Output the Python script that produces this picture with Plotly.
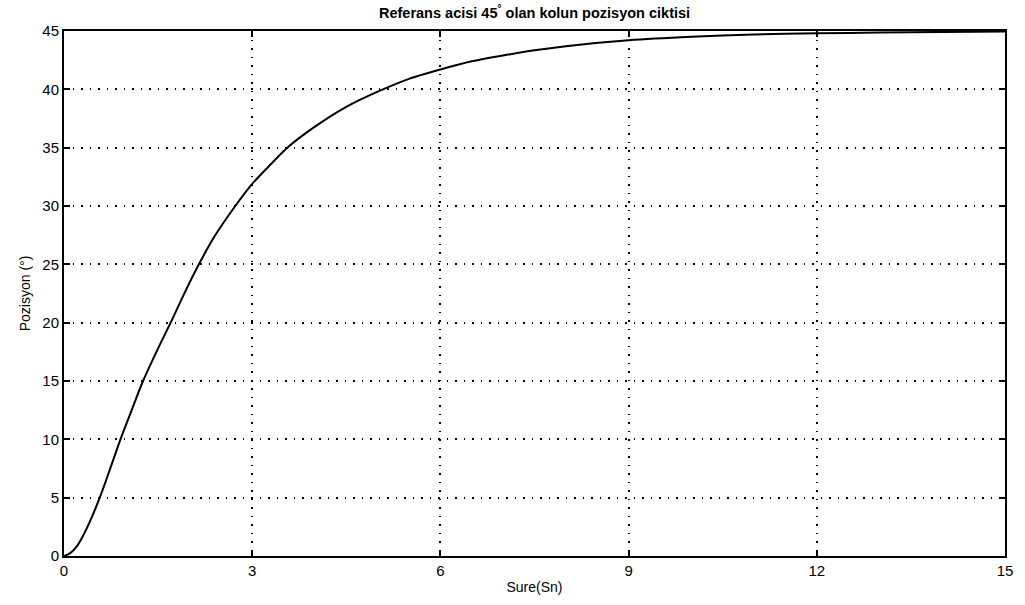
import plotly.graph_objects as go

time_s = [0, 0.1, 0.2, 0.3, 0.4, 0.57, 0.75, 0.9, 1.1, 1.26, 1.5, 1.7, 1.9, 2.15, 2.4, 2.73,
          3.0, 3.3, 3.56, 4.0, 4.5, 5.0, 5.5, 6.0, 6.5, 7.0, 7.5, 8.0, 9.0, 10.0, 11.0,
          12.0, 13.0, 14.0, 15.0]
position_deg = [0, 0.25, 0.8, 1.7, 2.8, 5.0, 7.7, 10.0, 12.8, 15.0, 17.8, 20.0, 22.3, 25.0, 27.4, 30.0,
                31.9, 33.6, 35.0, 36.8, 38.5, 39.8, 40.9, 41.7, 42.4, 42.9, 43.35, 43.7, 44.2, 44.5, 44.7,
                44.8, 44.87, 44.92, 44.95]

x_ticks = [0, 3, 6, 9, 12, 15]
y_ticks = [0, 5, 10, 15, 20, 25, 30, 35, 40, 45]

fig = go.Figure()
fig.add_trace(go.Scatter(x=time_s, y=position_deg, mode="lines",
                         line=dict(color="black", width=2, shape="spline", smoothing=0.8),
                         showlegend=False, hoverinfo="skip"))

axis_common = dict(showline=True, linecolor="black", linewidth=2, mirror="allticks",
                   ticks="inside", ticklen=6, tickwidth=1.5, tickcolor="black",
                   showgrid=True, gridcolor="black", gridwidth=1.5, griddash="1.5px,7px",
                   zeroline=False,
                   tickfont=dict(family="Liberation Sans, Arial", size=15, color="black"))

fig.update_xaxes(range=[0, 15], tickvals=x_ticks, **axis_common,
                 title=dict(text="Sure(Sn)", font=dict(family="Liberation Sans, Arial", size=14, color="black"),
                            standoff=4))
fig.update_yaxes(range=[0, 45], tickvals=y_ticks, **axis_common,
                 title=dict(text="Pozisyon (°)", font=dict(family="Liberation Sans Narrow, Liberation Sans, Arial", size=14, color="black"),
                            standoff=8))

fig.update_layout(
    width=1025, height=605,
    margin=dict(l=64, r=20, t=31, b=47),
    paper_bgcolor="white", plot_bgcolor="white",
    title=dict(text="<b>Referans acisi 45<sup>°</sup> olan kolun pozisyon ciktisi</b>",
               x=0.5215, xanchor="center", y=0.987, yanchor="top",
               font=dict(family="Liberation Sans, Arial", size=14.5, color="black")),
)

fig.write_html("out.html")
